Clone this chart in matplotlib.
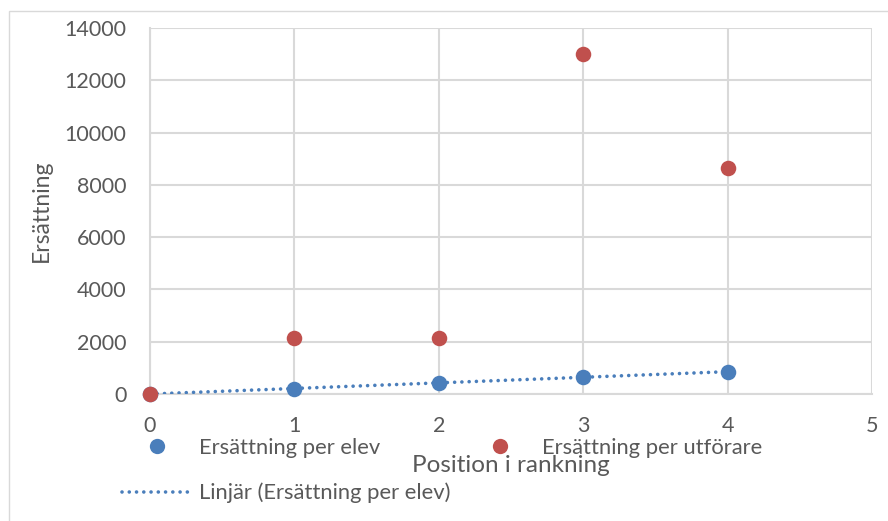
import numpy as np
import matplotlib.pyplot as plt
from matplotlib.lines import Line2D
from matplotlib.patches import Rectangle

# Data
positions = [0, 1, 2, 3, 4]
per_elev = [0, 210, 425, 640, 855]
per_utforare = [0, 2150, 2150, 13000, 8650]
x_ticks = [0, 1, 2, 3, 4, 5]
y_ticks = [0, 2000, 4000, 6000, 8000, 10000, 12000, 14000]

BLUE = "#4A7EBB"
RED = "#C0504D"
GRID = "#D9D9D9"
TEXT = "#595959"

plt.rcParams['font.family'] = ['Lato', 'DejaVu Sans']

W, H = 888, 521
fig = plt.figure(figsize=(W / 100, H / 100), dpi=100)

# chart-area border (left and top edges visible)
fig.add_artist(Rectangle((9 / W, -0.05), 1.2, 1.05 - 11 / H,
                         transform=fig.transFigure, fill=False,
                         edgecolor=GRID, linewidth=1.0))

left, right, top, bottom = 150, 872, 28, 394
ax = fig.add_axes([left / W, 1 - bottom / H, (right - left) / W, (bottom - top) / H])

ax.set_xlim(0, 5)
ax.set_ylim(0, 14000)
ax.set_xticks(x_ticks)
ax.set_yticks(y_ticks)
ax.grid(True, color=GRID, linewidth=1.5)
ax.set_axisbelow(True)
for side in ['top', 'right']:
    ax.spines[side].set_visible(False)
for side in ['left', 'bottom']:
    ax.spines[side].set_color(GRID)
    ax.spines[side].set_linewidth(1.5)
ax.tick_params(length=0, labelsize=15.5, labelcolor=TEXT)
ax.tick_params(axis='x', pad=16)
ax.tick_params(axis='y', pad=17)

# linear trend of per-pupil compensation
coef = np.polyfit(positions, per_elev, 1)
xs = np.array([positions[0], positions[-1]])
trend, = ax.plot(xs, np.polyval(coef, xs), color=BLUE, linewidth=2.6,
                 linestyle=(0, (0.01, 2.0)), dash_capstyle='round', zorder=3)

elev = ax.scatter(positions, per_elev, s=125, color=BLUE, zorder=4, clip_on=False,
                  linewidths=0)
utf = ax.scatter(positions, per_utforare, s=125, color=RED, zorder=5, clip_on=False,
                 linewidths=0)

ax.set_ylabel("Ersättning", fontsize=16.5, color=TEXT)
ax.yaxis.set_label_coords((52 - left) / (right - left), 0.5)
ax.set_xlabel("Position i rankning", fontsize=17.5, color=TEXT)
ax.xaxis.set_label_coords(0.5, -(455 - bottom) / (bottom - top))

h_elev = Line2D([], [], linestyle='none', marker='o', markersize=11,
                color=BLUE, markeredgewidth=0)
h_utf = Line2D([], [], linestyle='none', marker='o', markersize=11,
               color=RED, markeredgewidth=0)
h_trend = Line2D([], [], color=BLUE, linewidth=2.6,
                 linestyle=(0, (0.01, 2.0)), dash_capstyle='round')

common = dict(frameon=False, fontsize=15.8, labelcolor=TEXT, handlelength=3.15,
              handletextpad=0.35, borderpad=0, borderaxespad=0, loc='center left')
leg1 = fig.legend([h_elev, h_utf], ["Ersättning per elev", "Ersättning per utförare"],
                  ncol=2, columnspacing=3.9,
                  bbox_to_anchor=(122 / W, 1 - 448 / H), **common)
leg2 = fig.legend([h_trend], ["Linjär (Ersättning per elev)"],
                  bbox_to_anchor=(122 / W, 1 - 493 / H), **common)

fig.savefig("out.png", dpi=100)
